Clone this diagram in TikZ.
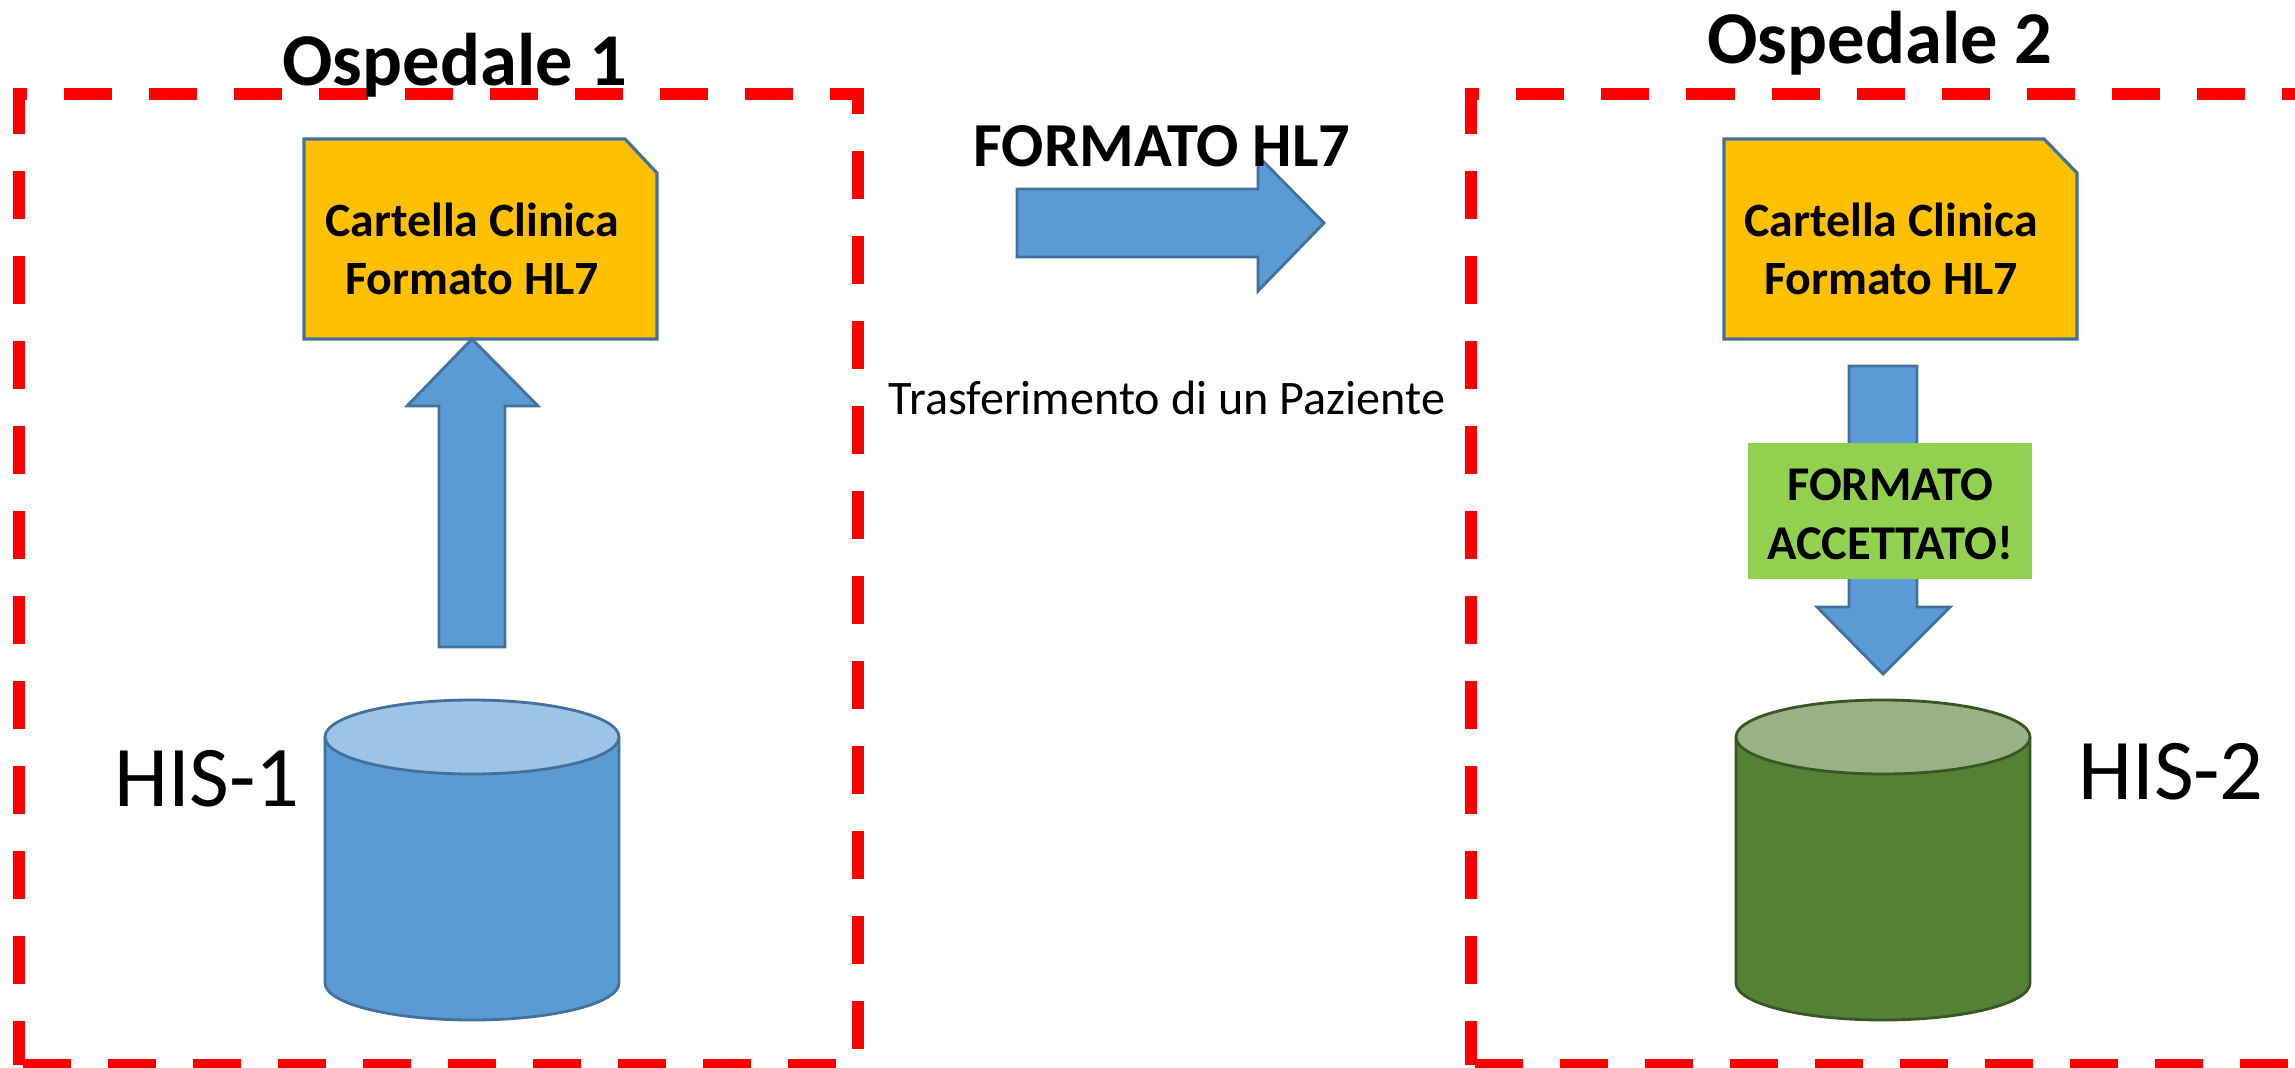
\documentclass[tikz,border=0pt]{standalone}
\usepackage{fontspec}
\usetikzlibrary{calc}
\setmainfont{Carlito}
\definecolor{rimred}{HTML}{FF0000}
\definecolor{docfill}{HTML}{FFC000}
\definecolor{blueedge}{HTML}{41719C}
\definecolor{bluefill}{HTML}{5B9BD5}
\definecolor{bluetop}{HTML}{9DC3E6}
\definecolor{greenedge}{HTML}{385723}
\definecolor{greenfill}{HTML}{548235}
\definecolor{greentop}{HTML}{98B285}
\definecolor{okfill}{HTML}{92D050}
\tikzset{
  hospital/.style={draw=rimred, line width=3.4pt, dash pattern=on 13.66pt off 10.52pt, dash phase=1.14pt},
  blockarrow/.style={draw=blueedge, fill=bluefill, line width=0.8pt},
  docsheet/.style={draw=blueedge, fill=docfill, line width=0.9pt},
  hospitaltitle/.style={anchor=base, inner sep=0pt, font=\bfseries\fontsize{21.2}{26}\selectfont},
  doctext/.style={align=center, inner sep=0pt, font=\bfseries\fontsize{13.6}{16.6}\selectfont},
  dbname/.style={anchor=base, inner sep=0pt, font=\fontsize{24.6}{30}\selectfont},
}
\begin{document}
\begin{tikzpicture}[x=0.01cm,y=-0.01cm]

    % Fix the frame of the picture
    \useasboundingbox (0,0) rectangle (2295,1067);
    \clip (0,0) rectangle (2295,1067);

    % Define the half axes of the cylinders
    \def\RX{147}
    \def\RY{37}

    % Define the centers of the two cylinders
    \coordinate (DBA) at (472,737);
    \coordinate (DBB) at (1883,737);

    % Draw the two dashed hospital frames
    \draw[hospital] (19,1065) -- (19,94) -- (857.6,94) -- (857.6,1065) -- cycle;
    \draw[hospital] (1471,1065) -- (1471,94) -- (2309.6,94) -- (2309.6,1065) -- cycle;

    % Draw the two folded documents
    \draw[docsheet] (304,139) -- (625,139) -- (657,173) -- (657,339) -- (304,339) -- cycle;
    \draw[docsheet] (1724,139) -- (2044,139) -- (2077,173) -- (2077,339) -- (1724,339) -- cycle;

    % Draw the block arrows
    \draw[blockarrow] (472,339) -- (538,406) -- (505,406) -- (505,647) -- (439,647) -- (439,406) -- (407,406) -- cycle;
    \draw[blockarrow] (1324,223) -- (1258,291) -- (1258,257) -- (1017,257) -- (1017,189) -- (1258,189) -- (1258,156) -- cycle;
    \draw[blockarrow] (1883,674) -- (1817,607) -- (1849,607) -- (1849,366) -- (1917,366) -- (1917,607) -- (1950,607) -- cycle;

    % Draw the first cylinder
    \draw[blockarrow] ($(DBA)+(-\RX,0)$) -- ($(DBA)+(-\RX,246)$) arc[start angle=180, end angle=0, x radius=\RX, y radius=\RY] -- ($(DBA)+(\RX,0)$);
    \draw[blockarrow, fill=bluetop] (DBA) ellipse[x radius=\RX, y radius=\RY];

    % Draw the second cylinder
    \draw[blockarrow, draw=greenedge, fill=greenfill] ($(DBB)+(-\RX,0)$) -- ($(DBB)+(-\RX,246)$) arc[start angle=180, end angle=0, x radius=\RX, y radius=\RY] -- ($(DBB)+(\RX,0)$);
    \draw[blockarrow, draw=greenedge, fill=greentop] (DBB) ellipse[x radius=\RX, y radius=\RY];

    % The green box sits on top of the down arrow
    \fill[okfill] (1748,443) rectangle (2032,579);

    % Add the labels
    \node[hospitaltitle] (titleA) at (455,86) {Ospedale 1};
    \node[hospitaltitle] (titleB) at (1880,64) {Ospedale 2};
    \node[doctext] (docA) at (472,249) {Cartella Clinica\\Formato HL7};
    \node[doctext] (docB) at (1891,249) {Cartella Clinica\\Formato HL7};
    \node[doctext, font=\bfseries\fontsize{13.8}{16.8}\selectfont] (okbox) at (1890,514) {FORMATO\\ACCETTATO!};
    \node[dbname] (nameA) at (207,806) {HIS-1};
    \node[dbname] (nameB) at (2171,799) {HIS-2};
    \node[anchor=base, inner sep=0pt, font=\bfseries\fontsize{17.8}{20}\selectfont] (formatlabel) at (1162,167) {FORMATO HL7};
    \node[anchor=base, inner sep=0pt, font=\fontsize{13.7}{15}\selectfont] (movelabel) at (1167,414) {Trasferimento di un Paziente};

\end{tikzpicture}
\end{document}
